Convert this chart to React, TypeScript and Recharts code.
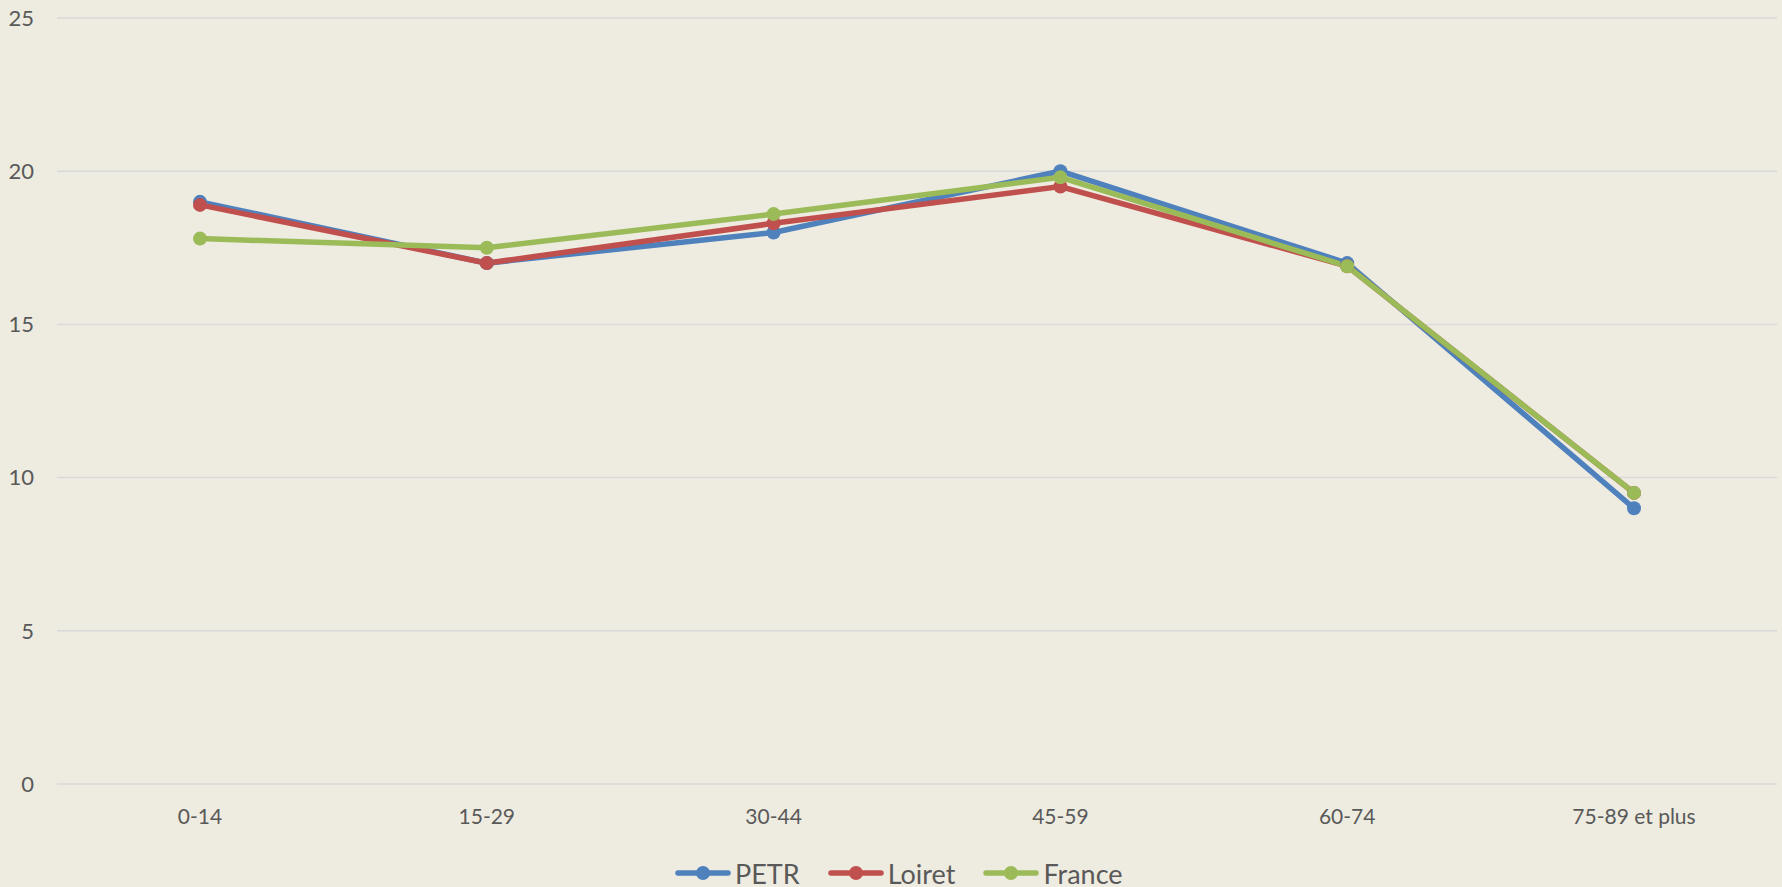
import React from 'react';
import { LineChart, Line, XAxis, YAxis, CartesianGrid, Legend } from 'recharts';

// age groups and population share (%) per area
const ageGroups = ['0-14', '15-29', '30-44', '45-59', '60-74', '75-89 et plus'];
const petr = [19.0, 17.0, 18.0, 20.0, 17.0, 9.0];
const loiret = [18.9, 17.0, 18.3, 19.5, 16.9, 9.5];
const france = [17.8, 17.5, 18.6, 19.8, 16.9, 9.5];
const yTicks = [0, 5, 10, 15, 20, 25];

const series = [
  { key: 'PETR', color: '#4F81BD' },
  { key: 'Loiret', color: '#C0504D' },
  { key: 'France', color: '#9BBB59' },
];

const data = ageGroups.map((age, i) => ({
  age,
  PETR: petr[i],
  Loiret: loiret[i],
  France: france[i],
}));

const FONT = 'Lato, "Open Sans", sans-serif';

const LegendContent = () => (
  <div
    style={{
      display: 'flex',
      alignItems: 'center',
      height: 28,
      paddingLeft: 675,
      fontFamily: FONT,
      fontSize: 27,
      color: '#595959',
    }}
  >
    {series.map((s, i) => (
      <div key={s.key} style={{ display: 'flex', alignItems: 'center', marginLeft: i === 0 ? 0 : 28 }}>
        <svg width={56} height={16} style={{ marginRight: 4 }}>
          <line x1={3} y1={8} x2={53} y2={8} stroke={s.color} strokeWidth={5.5} strokeLinecap="round" />
          <circle cx={28} cy={8} r={7} fill={s.color} />
        </svg>
        <span>{s.key}</span>
      </div>
    ))}
  </div>
);

const App: React.FC = () => {
  return (
    <div style={{ position: 'absolute', left: 0, top: 0, width: 1782, height: 887, background: '#EEEBE0' }}>
      <LineChart width={1782} height={887} data={data} margin={{ top: 18, right: 5, left: 0, bottom: 0 }}>
        <CartesianGrid vertical={false} stroke="#D9D9D9" strokeWidth={1.5} />
        <XAxis
          dataKey="age"
          axisLine={false}
          tickLine={false}
          height={75}
          tickMargin={19}
          padding={{ left: 143, right: 143 }}
          tick={{ fill: '#595959', fontSize: 21, fontFamily: FONT }}
        />
        <YAxis
          width={57}
          domain={[0, 25]}
          ticks={yTicks}
          axisLine={false}
          tickLine={false}
          tickMargin={17}
          tick={{ fill: '#595959', fontSize: 22, fontFamily: FONT }}
        />
        <Legend verticalAlign="bottom" content={<LegendContent />} />
        {series.map((s) => (
          <Line
            key={s.key}
            dataKey={s.key}
            type="linear"
            stroke={s.color}
            strokeWidth={5.5}
            dot={{ r: 7, fill: s.color, stroke: s.color, strokeWidth: 0 }}
            activeDot={false}
            isAnimationActive={false}
          />
        ))}
      </LineChart>
    </div>
  );
};

export default App;
